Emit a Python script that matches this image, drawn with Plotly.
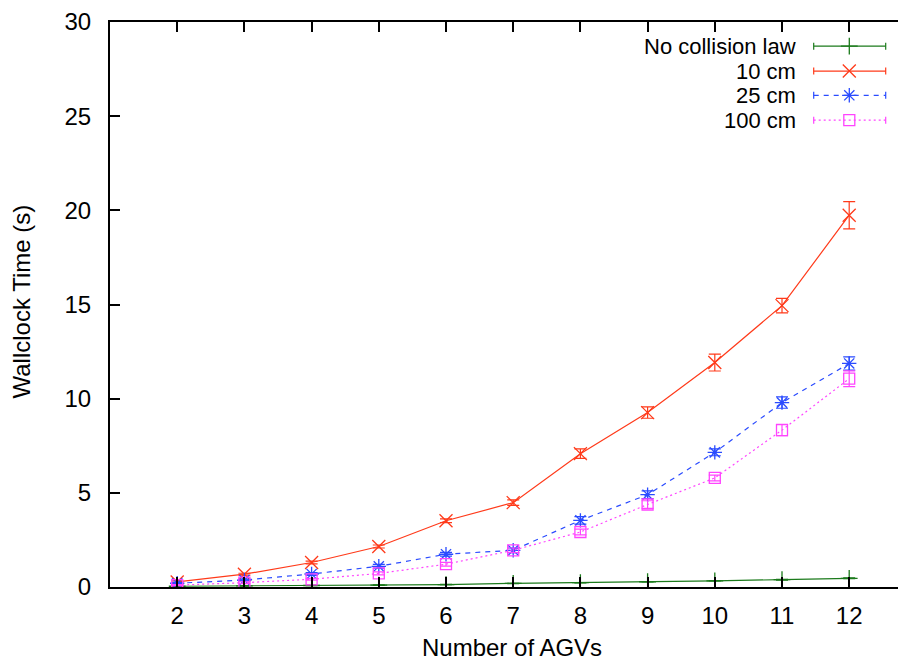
import plotly.graph_objects as go

agvs = [2, 3, 4, 5, 6, 7, 8, 9, 10, 11, 12]
no_collision = [0.04, 0.06, 0.08, 0.10, 0.13, 0.19, 0.23, 0.28, 0.33, 0.39, 0.46]
no_collision_err = [0.01, 0.01, 0.01, 0.01, 0.01, 0.01, 0.01, 0.01, 0.01, 0.02, 0.02]
cm10 = [0.27, 0.68, 1.30, 2.15, 3.52, 4.48, 7.08, 9.26, 11.92, 14.94, 19.74]
cm10_err = [0.05, 0.05, 0.07, 0.08, 0.1, 0.15, 0.25, 0.3, 0.45, 0.38, 0.72]
cm25 = [0.20, 0.37, 0.69, 1.10, 1.74, 1.95, 3.54, 4.90, 7.15, 9.79, 11.87]
cm25_err = [0.05, 0.05, 0.08, 0.1, 0.1, 0.12, 0.2, 0.2, 0.18, 0.3, 0.35]
cm100 = [0.10, 0.23, 0.41, 0.72, 1.21, 1.95, 2.92, 4.38, 5.79, 8.33, 11.06]
cm100_err = [0.03, 0.05, 0.05, 0.08, 0.1, 0.12, 0.15, 0.2, 0.15, 0.3, 0.42]

names = ["No collision law", "10 cm", "25 cm", "100 cm"]
colors = ["#1b7a1b", "#ff3a1a", "#2a4bff", "#ff44ff"]
symbols = ["cross-thin", "x-thin", "asterisk", "square-open"]
msizes = [12, 13, 12, 11]
dashes = ["solid", "solid", "5px,5px", "2px,3px"]
series = [no_collision, cm10, cm25, cm100]
errors = [no_collision_err, cm10_err, cm25_err, cm100_err]

FONT = "Liberation Sans, Arial, Helvetica, sans-serif"
FS = 24
LEG_FS = 22
OFF = 8  # page body margin in the browser
W, H = 906 - OFF, 662 - OFF
L, T = 110 - OFF, 19 - OFF
R, B = 0, 662 - 587
PX0, PX1, PY0, PY1 = 110, 906, 587, 19  # plot area in reference pixels


def px(x):
    return (x - PX0) / (PX1 - PX0)


def py(y):
    return (PY0 - y) / (PY0 - PY1)


fig = go.Figure()
for nm, c, s, ms, d, ys, e in zip(names, colors, symbols, msizes, dashes, series, errors):
    fig.add_trace(go.Scatter(
        x=agvs, y=ys, name=nm, mode="lines+markers",
        line=dict(color=c, width=1.2, dash=d),
        marker=dict(symbol=s, size=ms, color=c, line=dict(color=c, width=1.3)),
        error_y=dict(type="data", array=e, visible=True, color=c, thickness=1.2, width=6),
        showlegend=False,
    ))

# legend key drawn on an overlay axis mapped to reference pixel coordinates
rows = [43.3, 68.3, 92.7, 117.7]
kx0, kx1, kxm = 813.7, 885.7, 849.3
for nm, c, s, ms, d, ry in zip(names, colors, symbols, msizes, dashes, rows):
    fig.add_trace(go.Scatter(
        x=[kx0, kx1], y=[ry, ry], mode="lines", xaxis="x2", yaxis="y2",
        line=dict(color=c, width=1.2, dash=d),
        error_y=dict(type="constant", value=3.5, visible=True, color=c, thickness=1.2, width=0),
        showlegend=False, hoverinfo="skip",
    ))
    fig.add_trace(go.Scatter(
        x=[kxm], y=[ry], mode="markers", xaxis="x2", yaxis="y2",
        marker=dict(symbol=s, size=ms, color=c, line=dict(color=c, width=1.3)),
        showlegend=False, hoverinfo="skip",
    ))
    fig.add_annotation(x=px(797), y=py(ry), xref="paper", yref="paper", text=nm,
                       showarrow=False, xanchor="right", yanchor="middle", borderpad=0,
                       font=dict(family=FONT, size=LEG_FS, color="black"))

# axis titles
fig.add_annotation(x=px(512), y=py(648), xref="paper", yref="paper", text="Number of AGVs",
                   showarrow=False, xanchor="center", yanchor="middle",
                   font=dict(family=FONT, size=FS, color="black"))
fig.add_annotation(x=px(22), y=py(300), xref="paper", yref="paper", text="Wallclock Time (s)",
                   showarrow=False, textangle=-90, xanchor="center", yanchor="middle",
                   font=dict(family=FONT, size=FS, color="black"))

fig.update_layout(
    width=W, height=H,
    margin=dict(l=L, r=R, t=T, b=B, pad=0),
    paper_bgcolor="white", plot_bgcolor="white",
    font=dict(family=FONT, size=FS, color="black"),
    xaxis=dict(range=[1, 1 + (906 - 110) / 67.2], tickvals=agvs, ticks="inside", ticklen=10,
               tickwidth=1.5, tickcolor="black", showline=True, linecolor="black",
               linewidth=2, mirror="ticks", showgrid=False, zeroline=False,
               ticklabelstandoff=6, tickfont=dict(size=FS), ticklabeloverflow="allow"),
    yaxis=dict(range=[0, 30], dtick=5, ticks="inside", ticklen=10, tickwidth=1.5,
               tickcolor="black", showline=True, linecolor="black", linewidth=2,
               showgrid=False, zeroline=False, ticklabelstandoff=12,
               tickfont=dict(size=FS), ticklabeloverflow="allow"),
    xaxis2=dict(range=[PX0, PX1], overlaying="x", visible=False, fixedrange=True),
    yaxis2=dict(range=[PY0, PY1], overlaying="y", visible=False, fixedrange=True),
)

fig.write_html("out.html")
